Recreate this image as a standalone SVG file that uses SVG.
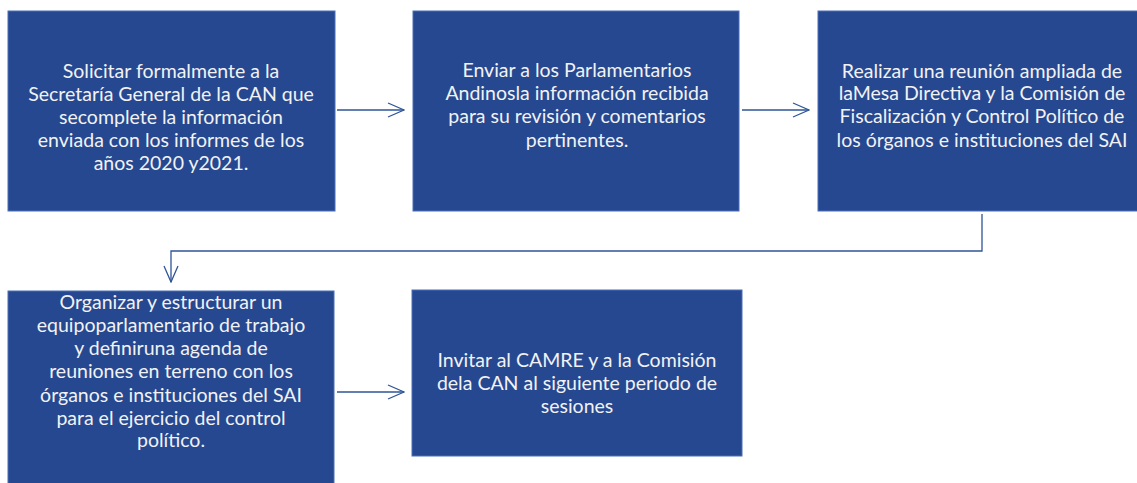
<svg xmlns="http://www.w3.org/2000/svg" width="1137" height="483" viewBox="0 0 1137 483">
<defs>
<style>
.box{fill:#264891;stroke:#4a6fb5;stroke-width:1}
.t{font-family:Lato,"Liberation Sans",sans-serif;font-size:19.5px;fill:#f2f2f2;text-anchor:middle}
.c{fill:none;stroke:#2f5597;stroke-width:1.3}
</style>
<marker id="ah" viewBox="0 0 18 16" refX="17" refY="8" markerWidth="18" markerHeight="16" markerUnits="userSpaceOnUse" orient="auto">
<path d="M1,1 L17,8 L1,15" fill="none" stroke="#2f5597" stroke-width="1.3"/>
</marker>
</defs>
<rect width="1137" height="483" fill="#ffffff"/>
<g id="connectors">
<line class="c" x1="337" y1="110" x2="404" y2="110" marker-end="url(#ah)"/>
<line class="c" x1="742" y1="110" x2="809" y2="110" marker-end="url(#ah)"/>
<polyline class="c" points="982,214 982,251 171,251 171,282" marker-end="url(#ah)"/>
<line class="c" x1="337" y1="392" x2="404" y2="392" marker-end="url(#ah)"/>
</g>
<g id="n1">
<rect class="box" x="8" y="11" width="327" height="200"/>
<text class="t"><tspan x="171" y="78">Solicitar formalmente a la</tspan><tspan x="171" y="101">Secretaría General de la CAN que</tspan><tspan x="171" y="124">secomplete la información</tspan><tspan x="171" y="147">enviada con los informes de los</tspan><tspan x="171" y="170">años 2020 y2021.</tspan></text>
</g>
<g id="n2">
<rect class="box" x="413" y="11" width="326" height="200"/>
<text class="t"><tspan x="577" y="77">Enviar a los Parlamentarios</tspan><tspan x="577" y="100">Andinosla información recibida</tspan><tspan x="577" y="123">para su revisión y comentarios</tspan><tspan x="577" y="147">pertinentes.</tspan></text>
</g>
<g id="n3">
<rect class="box" x="818" y="11" width="330" height="200"/>
<text class="t"><tspan x="982" y="78">Realizar una reunión ampliada de</tspan><tspan x="982" y="100">laMesa Directiva y la Comisión de</tspan><tspan x="982" y="123">Fiscalización y Control Político de</tspan><tspan x="982" y="147">los órganos e instituciones del SAI</tspan></text>
</g>
<g id="n4">
<rect class="box" x="8" y="291" width="326" height="200"/>
<text class="t"><tspan x="171" y="309">Organizar y estructurar un</tspan><tspan x="171" y="332">equipoparlamentario de trabajo</tspan><tspan x="171" y="355">y definiruna agenda de</tspan><tspan x="171" y="378">reuniones en terreno con los</tspan><tspan x="171" y="402">órganos e instituciones del SAI</tspan><tspan x="171" y="425">para el ejercicio del control</tspan><tspan x="171" y="447">político.</tspan></text>
</g>
<g id="n5">
<rect class="box" x="412" y="290" width="330" height="166"/>
<text class="t"><tspan x="577" y="367">Invitar al CAMRE y a la Comisión</tspan><tspan x="577" y="390">dela CAN al siguiente periodo de</tspan><tspan x="577" y="413">sesiones</tspan></text>
</g>
</svg>
